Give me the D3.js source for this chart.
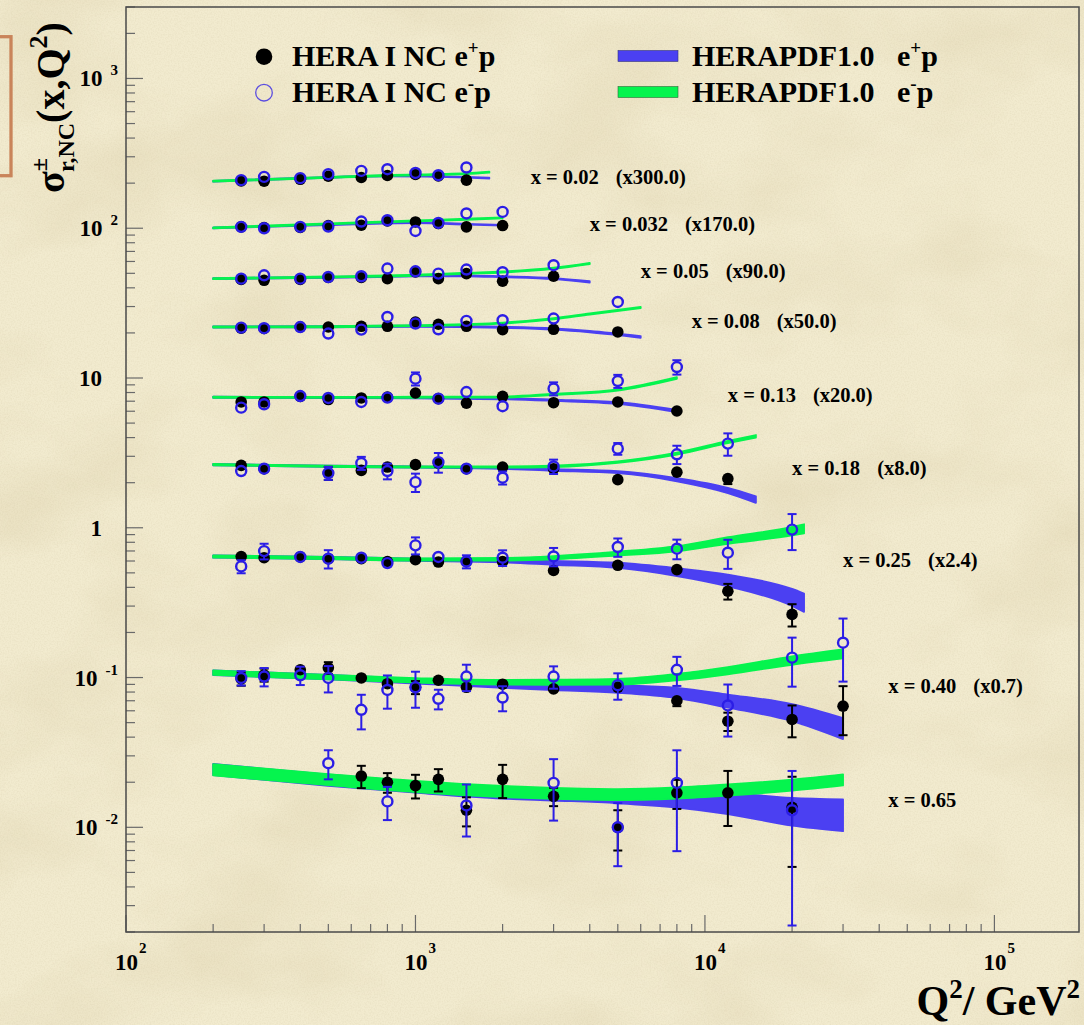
<!DOCTYPE html>
<html>
<head>
<meta charset="utf-8">
<script src="https://cdn.jsdelivr.net/npm/d3@7"></script>
<style>
  html, body { margin: 0; padding: 0; background: #f2ebd1; }
  svg { display: block; }
  text { font-family: "Liberation Serif", "Times New Roman", serif; font-weight: bold; fill: #000; white-space: pre; }
</style>
</head>
<body>
<svg id="chart" width="1084" height="1025"></svg>
<script>
// ---------------------------------------------------------------
// HERA I neutral-current reduced cross sections vs Q^2, high-x bins
// ---------------------------------------------------------------

// Q^2 bin centres (GeV^2) shared by all x bins
const Q2 = [250, 300, 400, 500, 650, 800, 1000, 1200, 1500, 2000, 3000, 5000, 8000, 12000, 20000, 30000];

const xBins = ["0.02", "0.032", "0.05", "0.08", "0.13", "0.18", "0.25", "0.40", "0.65"];
const scaleFactors = [300, 170, 90, 50, 20, 8, 2.4, 0.7, 1];
const scaleLabels = ["(x300.0)", "(x170.0)", "(x90.0)", "(x50.0)", "(x20.0)", "(x8.0)", "(x2.4)", "(x0.7)", ""];

// --- measured sigma_r (unscaled); relative total errors -------------
// x = 0.02
const ep002 = [0.690, 0.687, 0.707, 0.741, 0.727, 0.750, 0.762, 0.745, 0.698];
const ep002Err = [0.015, 0.015, 0.015, 0.015, 0.015, 0.015, 0.015, 0.015, 0.015];
const em002 = [0.698, 0.734, 0.720, 0.765, 0.805, 0.826, 0.780, 0.753, 0.848];
const em002Err = [0.015, 0.015, 0.015, 0.015, 0.02, 0.02, 0.03, 0.02, 0.02];
// x = 0.032
const ep0032 = [0.601, 0.595, 0.595, 0.613, 0.616, 0.658, 0.648, 0.632, 0.601, 0.613];
const ep0032Err = [0.015, 0.015, 0.015, 0.015, 0.015, 0.015, 0.015, 0.015, 0.015, 0.015];
const em0032 = [0.601, 0.588, 0.601, 0.604, 0.652, 0.665, 0.564, 0.638, 0.738, 0.756];
const em0032Err = [0.015, 0.015, 0.015, 0.015, 0.02, 0.02, 0.035, 0.02, 0.02, 0.02];
// x = 0.05
const ep005 = [0.505, 0.499, 0.505, 0.521, 0.521, 0.512, 0.567, 0.512, 0.553, 0.492, 0.531];
const ep005Err = [0.015, 0.015, 0.015, 0.015, 0.015, 0.015, 0.02, 0.015, 0.015, 0.015, 0.02];
const em005 = [0.512, 0.539, 0.512, 0.525, 0.531, 0.598, 0.573, 0.553, 0.589, 0.565, 0.629];
const em005Err = [0.015, 0.015, 0.015, 0.015, 0.015, 0.02, 0.04, 0.02, 0.02, 0.02, 0.035];
// x = 0.08
const ep008 = [0.430, 0.428, 0.438, 0.438, 0.443, 0.443, 0.473, 0.457, 0.443, 0.421, 0.423, 0.406];
const ep008Err = [0.02, 0.02, 0.02, 0.02, 0.02, 0.02, 0.03, 0.02, 0.02, 0.02, 0.02, 0.03];
const em008 = [0.434, 0.430, 0.438, 0.396, 0.421, 0.511, 0.462, 0.423, 0.481, 0.486, 0.499, 0.644];
const em008Err = [0.03, 0.02, 0.02, 0.055, 0.04, 0.04, 0.05, 0.03, 0.03, 0.03, 0.04, 0.045];
// x = 0.13
const ep013 = [0.346, 0.346, 0.377, 0.359, 0.368, 0.373, 0.397, 0.364, 0.340, 0.377, 0.342, 0.346, 0.301];
const ep013Err = [0.03, 0.03, 0.02, 0.02, 0.02, 0.02, 0.02, 0.02, 0.02, 0.03, 0.02, 0.02, 0.03];
const em013 = [0.317, 0.334, 0.379, 0.368, 0.346, 0.370, 0.495, 0.364, 0.403, 0.324, 0.425, 0.477, 0.592];
const em013Err = [0.06, 0.05, 0.02, 0.05, 0.04, 0.03, 0.1, 0.03, 0.08, 0.08, 0.1, 0.1, 0.11];
// x = 0.18 (no point at 400 GeV^2)
const ep018 = [0.326, 0.310, null, 0.290, 0.302, 0.318, 0.330, 0.338, 0.310, 0.318, 0.310, 0.262, 0.294, 0.266];
const ep018Err = [0.03, 0.03, null, 0.1, 0.05, 0.03, 0.03, 0.03, 0.03, 0.03, 0.03, 0.03, 0.03, 0.08];
const em018 = [0.299, 0.310, null, 0.290, 0.338, 0.299, 0.252, 0.343, 0.310, 0.270, 0.321, 0.422, 0.387, 0.456];
const em018Err = [0.04, 0.04, null, 0.1, 0.1, 0.12, 0.14, 0.15, 0.05, 0.1, 0.11, 0.09, 0.14, 0.17];
// x = 0.25
const ep025 = [0.268, 0.263, 0.266, 0.259, 0.259, 0.248, 0.255, 0.246, 0.250, 0.248, 0.216, 0.234, 0.219, 0.157, 0.110];
const ep025Err = [0.03, 0.04, 0.03, 0.04, 0.03, 0.03, 0.03, 0.03, 0.03, 0.04, 0.03, 0.04, 0.06, 0.12, 0.17];
const em025 = [0.230, 0.291, 0.266, 0.259, 0.263, 0.242, 0.318, 0.266, 0.248, 0.263, 0.268, 0.310, 0.302, 0.284, 0.405];
const em025Err = [0.1, 0.12, 0.04, 0.14, 0.04, 0.05, 0.13, 0.05, 0.1, 0.12, 0.14, 0.14, 0.15, 0.22, 0.27];
// x = 0.40
const ep040 = [0.140, 0.149, 0.161, 0.166, 0.142, 0.130, 0.123, 0.137, 0.123, 0.129, 0.120, 0.123, 0.100, 0.073, 0.075, 0.092];
const ep040Err = [0.1, 0.1, 0.06, 0.09, 0.04, 0.04, 0.1, 0.03, 0.04, 0.04, 0.04, 0.05, 0.08, 0.14, 0.24, 0.36];
const em040 = [0.142, 0.145, 0.148, 0.142, 0.087, 0.118, 0.123, 0.103, 0.145, 0.105, 0.145, 0.127, 0.161, 0.093, 0.194, 0.244];
const em040Err = [0.11, 0.14, 0.14, 0.2, 0.26, 0.25, 0.27, 0.15, 0.2, 0.19, 0.17, 0.2, 0.22, 0.38, 0.36, 0.45];
// x = 0.65
const ep065 = [null, null, null, null, 0.0220, 0.0200, 0.0190, 0.0209, 0.0130, 0.0209, 0.0161, 0.0100, 0.0170, 0.0170, 0.0136];
const ep065Err = [null, null, null, null, 0.17, 0.15, 0.18, 0.17, 0.22, 0.25, 0.14, 0.3, 0.22, 0.4, 0.6];
const em065 = [null, null, null, 0.0268, null, 0.0149, null, null, 0.0140, null, 0.0198, 0.0100, 0.0198, null, 0.0130];
const em065Err = [null, null, null, 0.22, null, 0.25, null, null, 0.38, null, 0.44, 0.45, 0.65, null, 0.83];

// --- HERAPDF1.0 predictions: nodes, central values, relative band half-widths ---
const thQ002 = [200, 400, 800, 1500, 1800];
const thEp002 = [0.687, 0.718, 0.745, 0.730, 0.720];
const thEp002Unc = [0.006, 0.006, 0.006, 0.006, 0.006];
const thEm002 = [0.687, 0.718, 0.750, 0.772, 0.789];
const thEm002Unc = [0.008, 0.008, 0.008, 0.008, 0.008];

const thQ0032 = [200, 500, 1000, 1500, 2000];
const thEp0032 = [0.591, 0.620, 0.640, 0.626, 0.616];
const thEp0032Unc = [0.006, 0.006, 0.006, 0.006, 0.006];
const thEm0032 = [0.591, 0.629, 0.658, 0.675, 0.689];
const thEm0032Unc = [0.008, 0.008, 0.008, 0.008, 0.008];

const thQ005 = [200, 500, 1000, 1500, 2000, 3000, 4000];
const thEp005 = [0.512, 0.522, 0.533, 0.535, 0.527, 0.512, 0.487];
const thEp005Unc = [0.007, 0.007, 0.007, 0.007, 0.008, 0.009, 0.01];
const thEm005 = [0.512, 0.525, 0.539, 0.556, 0.567, 0.600, 0.646];
const thEm005Unc = [0.008, 0.008, 0.008, 0.008, 0.008, 0.009, 0.01];

const thQ008 = [200, 500, 1000, 2000, 3000, 4000, 6000];
const thEp008 = [0.438, 0.440, 0.443, 0.436, 0.425, 0.408, 0.376];
const thEp008Unc = [0.008, 0.008, 0.008, 0.009, 0.01, 0.011, 0.013];
const thEm008 = [0.438, 0.440, 0.447, 0.465, 0.497, 0.535, 0.591];
const thEm008Unc = [0.008, 0.008, 0.008, 0.008, 0.009, 0.009, 0.01];

const thQ013 = [200, 500, 1000, 2000, 3000, 5000, 8000];
const thEp013 = [0.372, 0.370, 0.368, 0.364, 0.355, 0.340, 0.301];
const thEp013Unc = [0.008, 0.008, 0.008, 0.009, 0.01, 0.013, 0.018];
const thEm013 = [0.372, 0.371, 0.372, 0.373, 0.389, 0.416, 0.500];
const thEm013Unc = [0.008, 0.008, 0.008, 0.008, 0.009, 0.01, 0.012];

const thQ018 = [200, 500, 1000, 2000, 3000, 5000, 8000, 12000, 15000];
const thEp018 = [0.330, 0.322, 0.318, 0.312, 0.304, 0.294, 0.262, 0.222, 0.193];
const thEp018Unc = [0.01, 0.01, 0.01, 0.01, 0.012, 0.016, 0.025, 0.04, 0.05];
const thEm018 = [0.330, 0.322, 0.318, 0.318, 0.321, 0.343, 0.391, 0.467, 0.510];
const thEm018Unc = [0.01, 0.01, 0.01, 0.01, 0.011, 0.012, 0.015, 0.018, 0.02];

const thQ025 = [200, 500, 1000, 2000, 3000, 5000, 8000, 12000, 20000, 22000];
const thEp025 = [0.268, 0.262, 0.255, 0.250, 0.243, 0.234, 0.211, 0.186, 0.144, 0.133];
const thEp025Unc = [0.018, 0.018, 0.018, 0.02, 0.03, 0.04, 0.06, 0.09, 0.13, 0.14];
const thEm025 = [0.268, 0.262, 0.256, 0.257, 0.263, 0.280, 0.302, 0.343, 0.396, 0.411];
const thEm025Unc = [0.018, 0.018, 0.018, 0.02, 0.025, 0.03, 0.04, 0.05, 0.065, 0.07];

const thQ040 = [200, 500, 1000, 2000, 3000, 5000, 8000, 12000, 20000, 30000];
const thEp040 = [0.154, 0.144, 0.135, 0.127, 0.124, 0.120, 0.113, 0.100, 0.084, 0.066];
const thEp040Unc = [0.035, 0.035, 0.035, 0.04, 0.05, 0.06, 0.08, 0.1, 0.13, 0.16];
const thEm040 = [0.154, 0.144, 0.137, 0.133, 0.133, 0.134, 0.144, 0.159, 0.186, 0.206];
const thEm040Unc = [0.035, 0.035, 0.035, 0.035, 0.04, 0.045, 0.05, 0.055, 0.065, 0.07];

const thQ065 = [200, 500, 1000, 2000, 3000, 5000, 8000, 12000, 20000, 30000];
const thEp065 = [0.0244, 0.0207, 0.0186, 0.0170, 0.0165, 0.0160, 0.0154, 0.0146, 0.0130, 0.0124];
const thEp065Unc = [0.085, 0.085, 0.085, 0.085, 0.085, 0.095, 0.12, 0.16, 0.21, 0.24];
const thEm065 = [0.0243, 0.0209, 0.0188, 0.0174, 0.0169, 0.0166, 0.0170, 0.0178, 0.0192, 0.0208];
const thEm065Unc = [0.085, 0.085, 0.085, 0.085, 0.085, 0.085, 0.085, 0.085, 0.085, 0.085];

// axis tick labels
const yTickExps = [-2, -1, 0, 1, 2, 3];
const xTickExps = [2, 3, 4, 5];

// legend entries
const legendPoints = [["HERA I NC e", "+", "p"], ["HERA I NC e", "-", "p"]];
const legendBands = [["HERAPDF1.0   e", "+", "p"], ["HERAPDF1.0   e", "-", "p"]];

// ---------------------------------------------------------------
const rows = [
  { ep: ep002, epErr: ep002Err, em: em002, emErr: em002Err, tq: thQ002, tp: thEp002, tpu: thEp002Unc, tm: thEm002, tmu: thEm002Unc },
  { ep: ep0032, epErr: ep0032Err, em: em0032, emErr: em0032Err, tq: thQ0032, tp: thEp0032, tpu: thEp0032Unc, tm: thEm0032, tmu: thEm0032Unc },
  { ep: ep005, epErr: ep005Err, em: em005, emErr: em005Err, tq: thQ005, tp: thEp005, tpu: thEp005Unc, tm: thEm005, tmu: thEm005Unc },
  { ep: ep008, epErr: ep008Err, em: em008, emErr: em008Err, tq: thQ008, tp: thEp008, tpu: thEp008Unc, tm: thEm008, tmu: thEm008Unc },
  { ep: ep013, epErr: ep013Err, em: em013, emErr: em013Err, tq: thQ013, tp: thEp013, tpu: thEp013Unc, tm: thEm013, tmu: thEm013Unc },
  { ep: ep018, epErr: ep018Err, em: em018, emErr: em018Err, tq: thQ018, tp: thEp018, tpu: thEp018Unc, tm: thEm018, tmu: thEm018Unc },
  { ep: ep025, epErr: ep025Err, em: em025, emErr: em025Err, tq: thQ025, tp: thEp025, tpu: thEp025Unc, tm: thEm025, tmu: thEm025Unc },
  { ep: ep040, epErr: ep040Err, em: em040, emErr: em040Err, tq: thQ040, tp: thEp040, tpu: thEp040Unc, tm: thEm040, tmu: thEm040Unc },
  { ep: ep065, epErr: ep065Err, em: em065, emErr: em065Err, tq: thQ065, tp: thEp065, tpu: thEp065Unc, tm: thEm065, tmu: thEm065Unc }
].map((r, i) => Object.assign(r, { label: xBins[i], scale: scaleFactors[i], tag: scaleLabels[i] }));

// where each "x = ..." caption sits, in (Q^2, scaled sigma) coordinates
const captionAnchor = [[2500, 219], [4000, 106], [6000, 51.9], [9000, 24.1], [12000, 7.66],
                       [20000, 2.52], [30000, 0.606], [43000, 0.0877], [43000, 0.01533]];

// ---------------------------------------------------------------
const COL_POS = "#4b40f2";     // e+p band
const COL_NEG = "#05f44e";     // e-p band
const COL_OPEN = "#2b1de6";    // e-p markers
const svg = d3.select("#chart");
const frame = { left: 126, right: 1079, top: 7, bottom: 932 };

const x = d3.scaleLog().domain([100, 1.96e5]).range([frame.left, frame.right]);
const y = d3.scaleLog().domain([0.002, 3000]).range([frame.bottom, frame.top]);

// parchment background
const defs = svg.append("defs");
const mottle = defs.append("filter").attr("id", "mottle")
  .attr("x", 0).attr("y", 0).attr("width", "100%").attr("height", "100%");
mottle.append("feTurbulence").attr("type", "fractalNoise")
  .attr("baseFrequency", "0.006 0.009").attr("numOctaves", 4).attr("seed", 11);
mottle.append("feColorMatrix").attr("type", "matrix")
  .attr("values", "0 0 0 0 0.62  0 0 0 0 0.52  0 0 0 0 0.30  0.55 0 0 0 -0.24");
const grain = defs.append("filter").attr("id", "grain")
  .attr("x", 0).attr("y", 0).attr("width", "100%").attr("height", "100%");
grain.append("feTurbulence").attr("type", "fractalNoise")
  .attr("baseFrequency", "0.7").attr("numOctaves", 2).attr("seed", 3);
grain.append("feColorMatrix").attr("type", "matrix")
  .attr("values", "0 0 0 0 0.55  0 0 0 0 0.48  0 0 0 0 0.30  0.35 0 0 0 -0.13");

svg.append("rect").attr("width", 1084).attr("height", 1025).attr("fill", "#f2ebcf");
svg.append("rect").attr("width", 1084).attr("height", 1025).attr("filter", "url(#mottle)");
svg.append("rect").attr("width", 1084).attr("height", 1025).attr("filter", "url(#grain)");

// orange bracket at the left edge
svg.append("rect").attr("x", -20).attr("y", 36.7).attr("width", 31).attr("height", 139)
  .attr("fill", "none").attr("stroke", "#c9845a").attr("stroke-width", 3.3);

// ---------- axes ----------
const axisG = svg.append("g");
const isMajor = v => Math.abs(Math.log10(v) - Math.round(Math.log10(v))) < 1e-9;

y.ticks().filter(v => v >= 0.002 && v <= 3000).forEach(v => {
  const len = isMajor(v) ? 17 : 9;
  axisG.append("line").attr("x1", frame.left).attr("x2", frame.left + len)
    .attr("y1", y(v)).attr("y2", y(v)).attr("stroke", "#6a6a6a").attr("stroke-width", 1.2);
});
x.ticks().filter(v => v >= 100 && v <= 1.96e5).forEach(v => {
  const len = isMajor(v) ? 17 : 8;
  axisG.append("line").attr("x1", x(v)).attr("x2", x(v))
    .attr("y1", frame.bottom).attr("y2", frame.bottom - len).attr("stroke", "#6a6a6a").attr("stroke-width", 1.2);
});
axisG.append("rect").attr("x", frame.left).attr("y", frame.top)
  .attr("width", frame.right - frame.left).attr("height", frame.bottom - frame.top)
  .attr("fill", "none").attr("stroke", "#4a4a4a").attr("stroke-width", 1.5);

// y tick labels
yTickExps.forEach(k => {
  const yy = y(Math.pow(10, k));
  if (k === 0 || k === 1) {
    axisG.append("text").attr("x", 102).attr("y", yy + 8).attr("text-anchor", "end")
      .attr("font-size", 23).text(k === 0 ? "1" : "10");
  } else {
    const t = axisG.append("text").attr("x", 118).attr("y", yy + 8).attr("text-anchor", "end").attr("font-size", 23);
    t.append("tspan").text("10");
    t.append("tspan").attr("dx", 8).attr("dy", -11).attr("font-size", 15).text(String(k));
  }
});
// x tick labels
xTickExps.forEach(k => {
  const xx = x(Math.pow(10, k));
  const t = axisG.append("text").attr("x", xx - 11).attr("y", 970).attr("font-size", 23);
  t.append("tspan").text("10");
  t.append("tspan").attr("dx", 1).attr("dy", -17).attr("font-size", 15).text(String(k));
});

// axis titles
const xt = svg.append("text").attr("x", 1080).attr("y", 1015).attr("text-anchor", "end").attr("font-size", 42);
xt.append("tspan").text("Q");
xt.append("tspan").attr("dy", -17).attr("font-size", 27).text("2");
xt.append("tspan").attr("dy", 17).text("/ GeV");
xt.append("tspan").attr("dy", -17).attr("font-size", 27).text("2");

const yt = svg.append("text").attr("transform", "translate(64,193) rotate(-90)").attr("font-size", 40);
yt.append("tspan").text("σ");
yt.append("tspan").attr("dy", -17).attr("font-size", 24).text("±");
yt.append("tspan").attr("dx", -14).attr("dy", 27).attr("font-size", 24).text("r,NC");
yt.append("tspan").attr("dy", -10).text("(x,Q");
yt.append("tspan").attr("dy", -17).attr("font-size", 26).text("2");
yt.append("tspan").attr("dy", 17).text(")");

// ---------- prediction bands ----------
const bandG = svg.append("g");
function band(r, vals, uncs, colour) {
  const pts = r.tq.map((q, i) => ({ q, v: vals[i] * r.scale, u: uncs[i] }));
  const area = d3.area()
    .x(d => x(d.q))
    .y0(d => y(d.v * (1 - d.u)))
    .y1(d => y(d.v * (1 + d.u)))
    .curve(d3.curveMonotoneX);
  bandG.append("path").attr("d", area(pts)).attr("fill", colour)
    .attr("stroke", colour).attr("stroke-width", 1.8).attr("stroke-linejoin", "round");
}
rows.forEach(r => {
  band(r, r.tp, r.tpu, COL_POS);
  band(r, r.tm, r.tmu, COL_NEG);
});

// ---------- data points ----------
function points(r, vals, errs, open) {
  const g = svg.append("g");
  const colour = open ? COL_OPEN : "#000";
  const rad = open ? 6 : 5.8;
  vals.forEach((v, i) => {
    if (v == null) return;
    const cx = x(Q2[i]);
    const cy = y(v * r.scale);
    const e = errs[i];
    const yHi = y(v * (1 + e) * r.scale);
    const yLo = y(v * (1 - e) * r.scale);
    if (cy - yHi > rad - 0.5) {
      g.append("line").attr("x1", cx).attr("x2", cx).attr("y1", yHi).attr("y2", cy - rad + 0.5)
        .attr("stroke", colour).attr("stroke-width", 2);
      g.append("line").attr("x1", cx - 4.5).attr("x2", cx + 4.5).attr("y1", yHi).attr("y2", yHi)
        .attr("stroke", colour).attr("stroke-width", 2);
    }
    if (yLo - cy > rad - 0.5) {
      g.append("line").attr("x1", cx).attr("x2", cx).attr("y1", cy + rad - 0.5).attr("y2", yLo)
        .attr("stroke", colour).attr("stroke-width", 2);
      g.append("line").attr("x1", cx - 4.5).attr("x2", cx + 4.5).attr("y1", yLo).attr("y2", yLo)
        .attr("stroke", colour).attr("stroke-width", 2);
    }
    if (open) {
      g.append("circle").attr("cx", cx).attr("cy", cy).attr("r", 5)
        .attr("fill", "none").attr("stroke", colour).attr("stroke-width", 2.4);
    } else {
      g.append("circle").attr("cx", cx).attr("cy", cy).attr("r", 5.8).attr("fill", "#000");
    }
  });
}
rows.forEach(r => points(r, r.ep, r.epErr, false));
rows.forEach(r => points(r, r.em, r.emErr, true));

// ---------- captions ----------
rows.forEach((r, i) => {
  const [q, v] = captionAnchor[i];
  const t = svg.append("text").attr("x", x(q)).attr("y", y(v) + 7).attr("font-size", 20.5);
  t.append("tspan").text("x = " + r.label);
  if (r.tag) t.append("tspan").attr("dx", 17).text(r.tag);
});

// ---------- legend ----------
const leg = svg.append("g");
leg.append("circle").attr("cx", 264).attr("cy", 56.7).attr("r", 8.3).attr("fill", "#000");
leg.append("circle").attr("cx", 264).attr("cy", 92.7).attr("r", 8.3)
  .attr("fill", "none").attr("stroke", "#5b4de0").attr("stroke-width", 1.3);
leg.append("rect").attr("x", 618).attr("y", 50.5).attr("width", 60).attr("height", 11)
  .attr("fill", COL_POS).attr("stroke", "#33337a").attr("stroke-width", 0.6);
leg.append("rect").attr("x", 618).attr("y", 86.5).attr("width", 60).attr("height", 11)
  .attr("fill", COL_NEG).attr("stroke", "#2f6a3a").attr("stroke-width", 0.6);

function legendText(parts, xx, yy) {
  const t = leg.append("text").attr("x", xx).attr("y", yy).attr("font-size", 30);
  t.append("tspan").text(parts[0]);
  t.append("tspan").attr("dy", -12).attr("font-size", 19).text(parts[1]);
  t.append("tspan").attr("dy", 12).text(parts[2]);
}
legendText(legendPoints[0], 292, 66);
legendText(legendPoints[1], 292, 102);
legendText(legendBands[0], 692, 66);
legendText(legendBands[1], 692, 102);
</script>
</body>
</html>
